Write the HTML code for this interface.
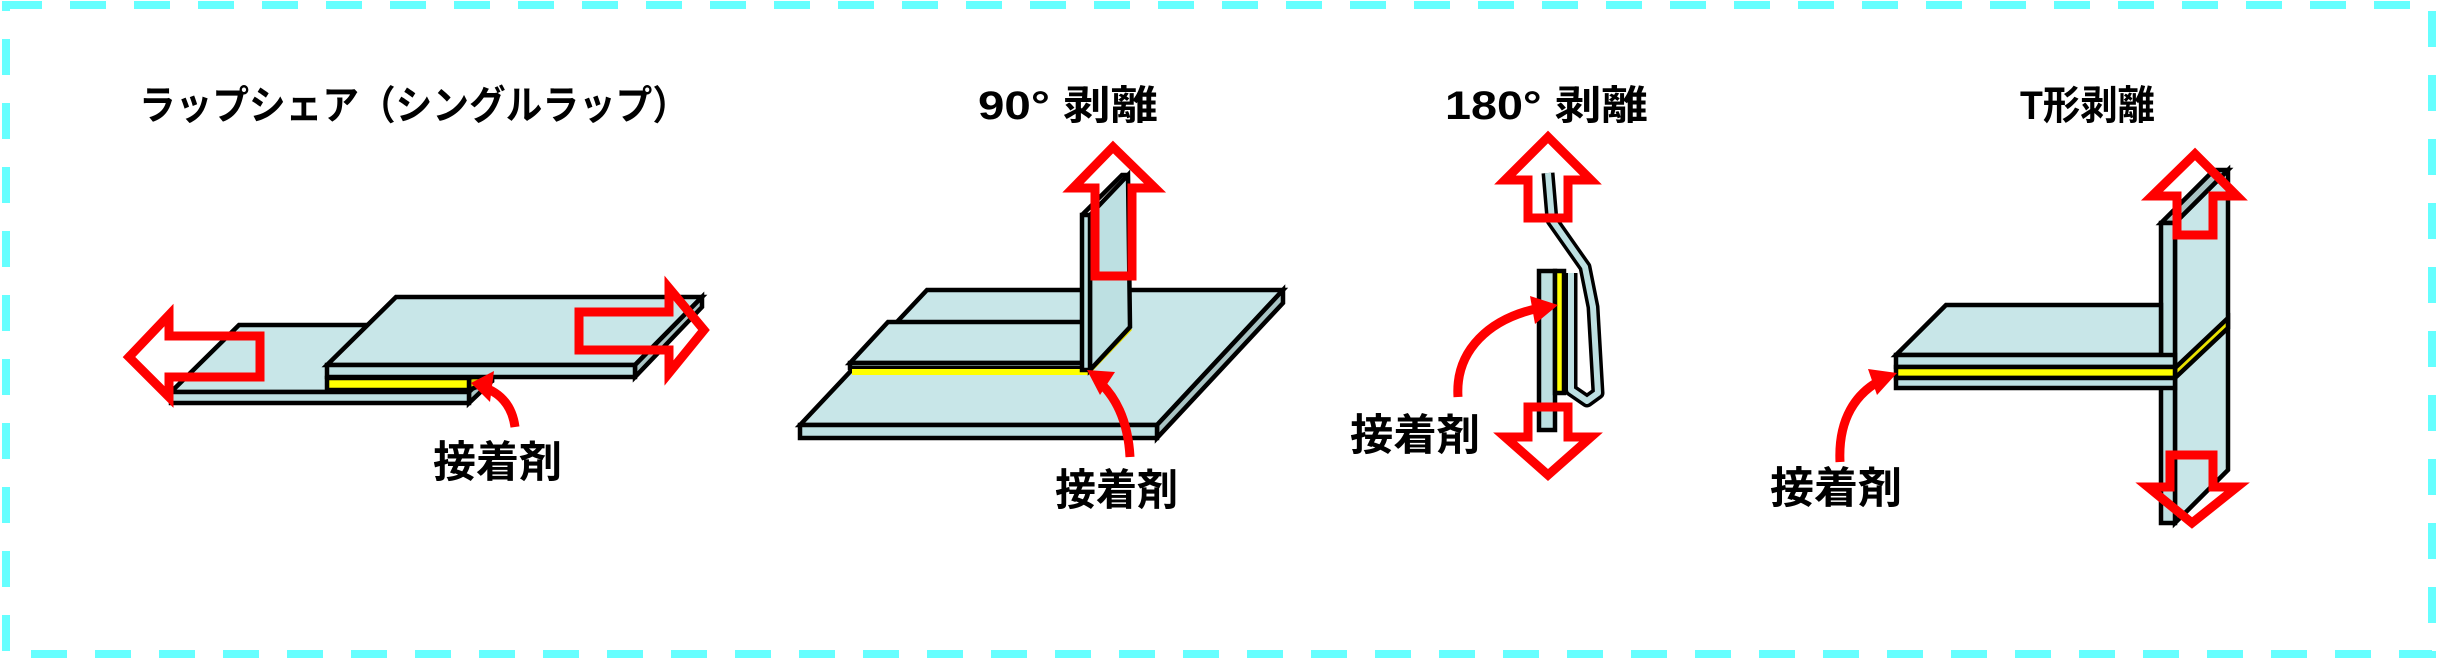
<!DOCTYPE html>
<html><head><meta charset="utf-8"><style>
html,body{margin:0;padding:0;background:#fff;}
svg{display:block;}
text{font-family:"Liberation Sans","Noto Sans CJK JP",sans-serif;fill:#000;font-weight:bold;}
</style></head><body>
<svg width="2438" height="660" viewBox="0 0 2438 660" xmlns="http://www.w3.org/2000/svg">
<rect x="6" y="5" width="2426" height="649" fill="none" stroke="#66ffff" stroke-width="8" stroke-dasharray="36 28"/>

<g font-size="40">
<text x="139" y="119" textLength="550" lengthAdjust="spacingAndGlyphs">ラップシェア（シングルラップ）</text>
<text x="978" y="119" textLength="180" lengthAdjust="spacingAndGlyphs">90°  剥離</text>
<text x="1445" y="119" textLength="203" lengthAdjust="spacingAndGlyphs">180°  剥離</text>
<text x="2020" y="119" textLength="135" lengthAdjust="spacingAndGlyphs">T形剥離</text>
</g>

<g stroke="#000" stroke-width="4.5" stroke-linejoin="miter">
<!-- Lap shear -->
<polygon points="171,392 239,325 560,325 469,392" fill="#c8e6e8"/>
<polygon points="469,392 492,370 492,381 469,403" fill="#a9c4c4"/>
<rect x="171" y="392" width="298" height="11" fill="#bde0e2"/>
<polygon points="469,378 492,370 492,381 469,390" fill="#dccc00"/>
<rect x="327" y="378" width="142" height="12" fill="#ffff00"/>
<polygon points="327,365 396,297 702,297 635,365" fill="#c8e6e8"/>
<polygon points="635,365 702,297 702,307 635,377" fill="#a9c4c4"/>
<rect x="327" y="365" width="308" height="12" fill="#bde0e2"/>
</g>
<g fill="none" stroke="#ff0000" stroke-width="9" stroke-linejoin="miter">
<polygon points="129,357 169,315 169,336 260,336 260,377 169,377 169,397"/>
<polygon points="704,330 669,288 669,312 579,312 579,350 669,350 669,373"/>
</g>
<path d="M515,427 C512,405 500,392 480,386" fill="none" stroke="#f00" stroke-width="9"/>
<polygon points="471,383 494,371 490,402" fill="#f00"/>
<text x="433" y="477" font-size="43" textLength="129" lengthAdjust="spacingAndGlyphs">接着剤</text>

<!-- 90 deg -->
<g stroke="#000" stroke-width="4.5">
<polygon points="800,425 927,290 1283,290 1157,425" fill="#c8e6e8"/>
<polygon points="1157,425 1283,290 1283,303 1157,438" fill="#a9c4c4"/>
<rect x="800" y="425" width="357" height="13" fill="#bde0e2"/>
<polygon points="850,363 888,322 1090,322 1090,363" fill="#c8e6e8"/>
<rect x="850" y="363" width="237" height="5" fill="#bde0e2"/>
</g>
<rect x="852" y="369" width="236" height="6" fill="#ffff00"/>
<polygon points="1087,369 1130,326 1132,330 1089,375" fill="#e8e000"/>
<g stroke="#000" stroke-width="4.5">
<polygon points="1090,215 1128,175 1130,327 1090,370" fill="#bde0e2"/>
<rect x="1082" y="215" width="8" height="155" fill="#bde0e2"/>
<polyline points="1082,215 1122,175 1128,175" fill="none"/>
</g>
<polygon points="1113,147 1073,188 1095,188 1095,276 1132,276 1132,188 1155,188" fill="none" stroke="#f00" stroke-width="9"/>
<path d="M1130,457 C1128,420 1115,395 1097,380" fill="none" stroke="#f00" stroke-width="9"/>
<polygon points="1087,370 1115,372 1100,395" fill="#f00"/>
<text x="1055" y="505" font-size="43" textLength="123" lengthAdjust="spacingAndGlyphs">接着剤</text>

<!-- 180 deg -->
<g stroke="#000" stroke-width="4.5">
<rect x="1539" y="271" width="16" height="159" fill="#bde0e2"/>
<rect x="1555" y="271" width="9" height="122" fill="#ffff00"/>
</g>
<polyline points="1571,273 1571,390 1587,401 1598,393 1593,307 1585,267 1552,220 1548,173" fill="none" stroke="#000" stroke-width="13" stroke-linejoin="round"/>
<polyline points="1571,273 1571,390 1587,401 1598,393 1593,307 1585,267 1552,220 1548,173" fill="none" stroke="#bde0e2" stroke-width="6" stroke-linejoin="round"/>
<g fill="none" stroke="#f00" stroke-width="9">
<polygon points="1548,137 1505,180 1528,180 1528,218 1568,218 1568,180 1591,180"/>
<polygon points="1548,475 1505,437 1528,437 1528,407 1568,407 1568,437 1591,437"/>
</g>
<path d="M1458,397 C1455,350 1490,318 1540,308" fill="none" stroke="#f00" stroke-width="9"/>
<polygon points="1558,305 1530,296 1535,324" fill="#f00"/>
<text x="1350" y="450" font-size="43" textLength="130" lengthAdjust="spacingAndGlyphs">接着剤</text>

<!-- T peel -->
<g stroke="#000" stroke-width="4.5">
<polygon points="2175,223 2228,170 2228,470 2175,523" fill="#c8e6e8"/>
<polygon points="2161,223 2214,170 2228,170 2175,223" fill="#a9c4c4"/>
<polygon points="2175,368 2228,318 2228,328 2175,378" fill="#e8e000"/>
<rect x="2161" y="223" width="14" height="300" fill="#bde0e2"/>
<polygon points="1896,355 1946,305 2161,305 2161,355" fill="#c8e6e8"/>
<rect x="1896" y="355" width="279" height="12" fill="#bde0e2"/>
<rect x="1896" y="367" width="279" height="11" fill="#ffff00"/>
<rect x="1896" y="378" width="279" height="10" fill="#bde0e2"/>
</g>
<g fill="none" stroke="#f00" stroke-width="9">
<polygon points="2195,154 2152,196 2177,196 2177,235 2213,235 2213,196 2237,196"/>
<polygon points="2192,523 2148,487 2170,487 2170,455 2213,455 2213,487 2237,487"/>
</g>
<path d="M1840,462 C1838,420 1855,392 1885,378" fill="none" stroke="#f00" stroke-width="9"/>
<polygon points="1897,373 1868,369 1877,395" fill="#f00"/>
<text x="1770" y="503" font-size="43" textLength="132" lengthAdjust="spacingAndGlyphs">接着剤</text>
</svg>
</body></html>
